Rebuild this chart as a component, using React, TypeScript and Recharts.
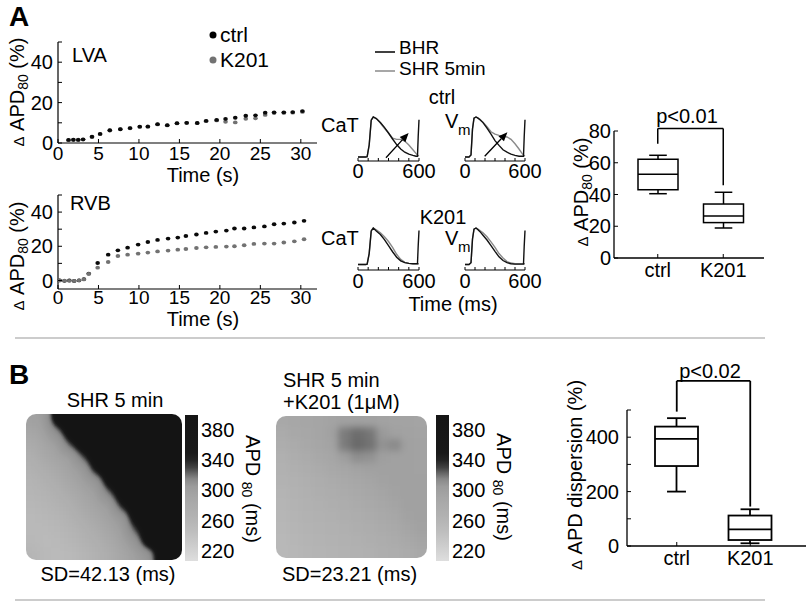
import React from "react";
import { ScatterChart, Scatter, LineChart, Line, BarChart, Bar, XAxis, YAxis, ReferenceLine } from "recharts";

const FONT = "'Liberation Sans', Arial, Helvetica, sans-serif";
const PAGE_W = 807;
const PAGE_H = 607;

// A: ΔAPD80 time courses (time in s, value in %)
const lvaTime = [1.3, 1.9, 2.5, 3.1, 4.2, 5.2, 6.4, 7.7, 8.9, 10.1, 11.1, 12.3, 13.5, 14.7, 15.9, 17.2, 18.3, 19.6, 20.7, 21.9, 23.2, 24.4, 25.6, 26.7, 27.9, 29.0, 30.2];
const lvaCtrl = [1.5, 1.6, 1.5, 1.8, 3.1, 4.5, 6.3, 6.8, 7.4, 8.1, 8.1, 9.3, 8.8, 9.8, 10.0, 9.9, 11.0, 11.4, 11.9, 12.5, 13.5, 13.7, 15.0, 15.2, 15.2, 15.3, 15.8];
const lvaK201 = [1.4, 1.5, 1.6, 1.7, 3.0, 4.4, 6.2, 6.9, 7.3, 8.0, 8.2, 9.2, 8.7, 9.7, 9.9, 9.8, 10.8, 11.2, 10.5, 10.2, 12.0, 12.2, 13.9, 14.8, 14.9, 15.0, 15.4];
const rvbTime = [0.2, 0.8, 1.4, 2.0, 2.6, 3.2, 3.8, 4.9, 6.2, 7.4, 8.6, 9.9, 11.1, 12.3, 13.6, 14.8, 15.8, 17.1, 18.3, 19.5, 20.8, 21.8, 23.0, 24.2, 25.5, 26.7, 27.9, 29.2, 30.4];
const rvbCtrl = [0, -0.2, 0, -0.3, 0, 0.8, 4.0, 10.2, 15.1, 17.6, 19.2, 21.0, 22.5, 23.7, 24.5, 25.1, 26.0, 26.9, 27.8, 28.6, 29.2, 30.4, 30.4, 31.0, 31.6, 32.9, 33.3, 33.9, 34.9];
const rvbK201 = [0.1, -0.1, -0.2, -0.2, 0.1, 0.6, 3.8, 7.5, 10.8, 14.3, 15.1, 15.7, 16.3, 17.0, 17.5, 18.0, 18.4, 19.0, 19.4, 19.6, 19.8, 20.0, 20.6, 21.4, 21.6, 21.6, 22.2, 22.9, 24.1];
const secTicks = [0, 5, 10, 15, 20, 25, 30];
const apdTicks = [0, 10, 20, 30, 40, 50];

// A: example traces, normalised amplitude vs time (ms)
const traceTime = [0, 40, 60, 75, 90, 110, 130, 150, 180, 220, 260, 300, 340, 380, 420, 460, 500, 540, 570, 585, 592, 600];
const ctrlCaTBhr = [0, 0, 0, 0, 0.01, 0.3, 0.92, 1, 0.96, 0.86, 0.74, 0.6, 0.45, 0.31, 0.2, 0.12, 0.07, 0.04, 0.02, 0.02, 0.5, 0.93];
const ctrlCaTShr = [0, 0, 0, 0, 0.01, 0.3, 0.92, 1, 0.96, 0.85, 0.72, 0.6, 0.47, 0.44, 0.44, 0.4, 0.3, 0.18, 0.09, 0.05, 0.04, 0.03];
const ctrlVmBhr = [0, 0, 0.05, 0.7, 0.97, 1, 0.97, 0.93, 0.86, 0.72, 0.57, 0.41, 0.29, 0.18, 0.12, 0.07, 0.04, 0.02, 0.02, 0.02, 0.5, 0.93];
const ctrlVmShr = [0, 0, 0.05, 0.7, 0.97, 1, 0.97, 0.94, 0.87, 0.76, 0.63, 0.57, 0.54, 0.52, 0.5, 0.44, 0.33, 0.2, 0.09, 0.05, 0.04, 0.03];
const k201CaTBhr = [0, 0, 0, 0, 0.01, 0.3, 0.92, 1, 0.92, 0.82, 0.68, 0.52, 0.35, 0.2, 0.1, 0.05, 0.03, 0.02, 0.02, 0.02, 0.5, 0.93];
const k201CaTShr = [0, 0, 0, 0, 0.01, 0.3, 0.92, 1, 0.95, 0.87, 0.76, 0.63, 0.47, 0.28, 0.14, 0.06, 0.03, 0.02, 0.02, 0.02, 0.02, 0.02];
const k201VmBhr = [0, 0, 0.05, 0.7, 0.97, 1, 0.95, 0.9, 0.8, 0.67, 0.52, 0.36, 0.21, 0.11, 0.05, 0.02, 0.01, 0.01, 0.01, 0.01, 0.5, 0.93];
const k201VmShr = [0, 0, 0.05, 0.7, 0.97, 1, 0.97, 0.93, 0.87, 0.76, 0.62, 0.47, 0.3, 0.18, 0.08, 0.04, 0.02, 0.02, 0.02, 0.02, 0.02, 0.02];
const msTicks = [0, 100, 200, 300, 400, 500, 600];
const caTArrow = [{ x: 275, y: -0.02 }, { x: 498, y: 0.6 }];
const vmArrow = [{ x: 197, y: 0.02 }, { x: 424, y: 0.62 }];

// box plots: min, q1, median, q3, max
const boxGroups = ["ctrl", "K201"];
const apdBox = [
  [40.5, 43, 52.7, 62.2, 64.7],
  [18.9, 22.3, 26.5, 34, 41.4],
];
const dispBox = [
  [200, 294, 394, 439, 470],
  [10, 22, 61, 112, 135],
];

// B: APD80 maps (ms), rows top to bottom
const mapShr = [
  [298, 305, 345, 385, 390, 390, 390, 390, 390, 390, 390, 390],
  [290, 298, 318, 370, 390, 390, 390, 390, 390, 390, 390, 390],
  [280, 292, 300, 325, 380, 390, 390, 390, 390, 390, 390, 390],
  [272, 285, 294, 302, 325, 385, 390, 390, 390, 390, 390, 390],
  [265, 275, 286, 296, 308, 335, 388, 390, 390, 390, 390, 390],
  [260, 268, 278, 290, 300, 312, 345, 390, 390, 390, 390, 390],
  [258, 262, 270, 282, 292, 302, 322, 380, 390, 390, 390, 390],
  [255, 258, 263, 272, 285, 295, 305, 330, 388, 390, 390, 390],
  [252, 255, 258, 265, 277, 288, 298, 310, 340, 390, 390, 390],
  [252, 252, 255, 260, 268, 280, 292, 302, 325, 385, 390, 390],
  [254, 250, 252, 256, 263, 272, 284, 296, 312, 350, 390, 390],
  [258, 252, 250, 252, 258, 266, 278, 290, 300, 312, 360, 390],
];
const mapK201 = [
  [285, 288, 290, 292, 295, 298, 298, 298, 296, 295, 295, 293],
  [280, 285, 288, 292, 298, 318, 321, 319, 306, 298, 296, 295],
  [275, 280, 285, 290, 295, 318, 322, 320, 310, 314, 298, 296],
  [270, 275, 280, 285, 290, 302, 312, 310, 300, 298, 297, 296],
  [268, 272, 276, 280, 285, 290, 295, 298, 298, 297, 297, 296],
  [265, 268, 272, 276, 280, 284, 288, 292, 296, 297, 298, 297],
  [262, 266, 270, 273, 276, 280, 283, 287, 292, 296, 298, 298],
  [260, 264, 268, 270, 273, 276, 280, 283, 288, 293, 298, 298],
  [258, 262, 266, 268, 270, 273, 276, 280, 284, 288, 296, 298],
  [256, 260, 264, 266, 268, 270, 273, 276, 280, 284, 292, 296],
  [255, 258, 262, 264, 266, 268, 270, 273, 276, 280, 286, 292],
  [255, 257, 260, 262, 264, 266, 268, 270, 273, 276, 280, 285],
];
const cbDomain = [206, 400];
const cbTicks = [220, 260, 300, 340, 380];

// gray colormap used by the maps and colour bars
const grayStops = [
  [206, 222], [225, 206], [245, 190], [265, 178], [290, 166], [305, 156],
  [315, 136], [322, 105], [330, 66], [340, 36], [350, 25], [400, 21],
];
function apdColor(v: number) {
  let g = grayStops[grayStops.length - 1][1];
  if (v <= grayStops[0][0]) g = grayStops[0][1];
  for (let i = 1; i < grayStops.length; i++) {
    const [v0, g0] = grayStops[i - 1];
    const [v1, g1] = grayStops[i];
    if (v >= v0 && v <= v1) {
      g = g0 + ((g1 - g0) * (v - v0)) / (v1 - v0);
      break;
    }
  }
  const c = Math.round(g);
  return `rgb(${c},${c},${c})`;
}

// smoothing for the maps: blur, then re-sharpen the dark/light edge
const sharpTable = "0.08 0.08 0.08 0.08 0.08 0.085 0.1 0.2 0.38 0.52 0.57 0.59 0.61 0.65 0.7 0.75 0.8 0.85 0.9 0.95 1";

// plot area in page pixels; axes are 1px wide so the margin is shifted by 1
const frame = (x0: number, y0: number, x1: number, y1: number) => ({
  top: y0,
  left: x0 - 1,
  right: PAGE_W - x1 - 1,
  bottom: PAGE_H - y1 - 1,
});

const Layer = ({ children }: { children: React.ReactNode }) => (
  <div style={{ position: "absolute", left: 0, top: 0 }}>{children}</div>
);

function leftTick(show?: number[], len = 4, gap = 3) {
  return (p: any) => {
    const v = p.payload.value;
    return (
      <g>
        {len > 0 && <line x1={p.x} x2={p.x + len} y1={p.y} y2={p.y} stroke="#000" />}
        {(!show || show.includes(v)) && (
          <text x={p.x - gap} y={p.y} dy="0.36em" textAnchor="end" fontSize={20} fontFamily={FONT} fill="#000">
            {v}
          </text>
        )}
      </g>
    );
  };
}

function bottomTick(dy: number, show?: (number | string)[], len = 4, size = 20) {
  return (p: any) => {
    const v = p.payload.value;
    return (
      <g>
        {len > 0 && <line x1={p.x} x2={p.x} y1={p.y} y2={p.y - len} stroke="#000" />}
        {(!show || show.includes(v)) && (
          <text x={p.x} y={p.y + dy} textAnchor="middle" fontSize={size} fontFamily={FONT} fill="#000">
            {v}
          </text>
        )}
      </g>
    );
  };
}

const rightTick = (p: any) => (
  <text x={p.x + 3} y={p.y} dy="0.36em" textAnchor="start" fontSize={20} fontFamily={FONT} fill="#000">
    {p.payload.value}
  </text>
);

const dot = (color: string) => (p: any) => <ellipse cx={p.cx} cy={p.cy} rx={2.3} ry={1.9} fill={color} />;

function TimeCourse(props: {
  box: [number, number, number, number];
  yDomain: [number, number];
  time: number[];
  ctrl: number[];
  k201: number[];
  k201OnTop?: boolean;
  labelDy: number;
}) {
  const { box, yDomain, time, ctrl, k201, k201OnTop, labelDy } = props;
  const ctrlData = time.map((t, i) => ({ t, v: ctrl[i] }));
  const k201Data = time.map((t, i) => ({ t, v: k201[i] }));
  const ctrlSeries = <Scatter key="c" data={ctrlData} shape={dot("#0a0a0a")} isAnimationActive={false} />;
  const k201Series = <Scatter key="k" data={k201Data} shape={dot("#727272")} isAnimationActive={false} />;
  return (
    <Layer>
      <ScatterChart width={PAGE_W} height={PAGE_H} margin={frame(...box)}>
        <XAxis type="number" dataKey="t" domain={[0, 32]} ticks={secTicks} interval={0} height={1} tickSize={0} tickMargin={0} tick={bottomTick(labelDy, undefined, 4, 19)} stroke="#000" strokeWidth={1.2} />
        <YAxis type="number" dataKey="v" domain={yDomain} ticks={apdTicks} interval={0} width={1} tickSize={0} tickMargin={0} tick={leftTick([0, 20, 40], 4, 5)} stroke="#000" strokeWidth={1.2} />
        {k201OnTop ? [ctrlSeries, k201Series] : [k201Series, ctrlSeries]}
      </ScatterChart>
    </Layer>
  );
}

const arrowShape = (p: any) => {
  const { x1, y1, x2, y2 } = p;
  const a = Math.atan2(y2 - y1, x2 - x1);
  const L = 9;
  const hw = 3.8;
  const bx = x2 - L * Math.cos(a);
  const by = y2 - L * Math.sin(a);
  const pts = `${x2},${y2} ${bx - hw * Math.sin(a)},${by + hw * Math.cos(a)} ${bx + hw * Math.sin(a)},${by - hw * Math.cos(a)}`;
  return (
    <g>
      <line x1={x1} y1={y1} x2={bx} y2={by} stroke="#000" strokeWidth={1.3} />
      <polygon points={pts} fill="#000" />
    </g>
  );
};

function Trace(props: {
  box: [number, number, number, number];
  yDomain: [number, number];
  bhr: number[];
  shr: number[];
  labelDy: number;
  arrow?: { x: number; y: number }[];
}) {
  const { box, yDomain, bhr, shr, labelDy, arrow } = props;
  const data = traceTime.map((t, i) => ({ t, bhr: bhr[i], shr: shr[i] }));
  return (
    <Layer>
      <LineChart width={PAGE_W} height={PAGE_H} margin={frame(...box)} data={data}>
        <XAxis type="number" dataKey="t" domain={[0, 600]} ticks={msTicks} interval={0} height={1} tickSize={0} tickMargin={0} tick={bottomTick(labelDy, [0, 600], 3)} stroke="#000" strokeWidth={1.2} />
        <YAxis type="number" domain={yDomain} hide />
        <Line dataKey="shr" stroke="#8a8a8a" strokeWidth={1.4} dot={false} isAnimationActive={false} />
        <Line dataKey="bhr" stroke="#111" strokeWidth={1.4} dot={false} isAnimationActive={false} />
        {arrow && <ReferenceLine segment={arrow} ifOverflow="visible" shape={arrowShape} />}
      </LineChart>
    </Layer>
  );
}

const boxShape = (lw: number) => (p: any) => {
  const { x, y, width, height, payload } = p;
  const { min, q1, med, q3, max } = payload;
  const top = Math.min(y, y + height);
  const bot = Math.max(y, y + height);
  const py = (v: number) => bot - ((bot - top) * (v - min)) / (max - min);
  const cx = x + width / 2;
  const cap = width * 0.22;
  return (
    <g stroke="#000" strokeWidth={lw} fill="none">
      <line x1={cx} x2={cx} y1={py(max)} y2={py(q3)} />
      <line x1={cx} x2={cx} y1={py(q1)} y2={py(min)} />
      <line x1={cx - cap} x2={cx + cap} y1={py(max)} y2={py(max)} />
      <line x1={cx - cap} x2={cx + cap} y1={py(min)} y2={py(min)} />
      <rect x={x} y={py(q3)} width={width} height={py(q1) - py(q3)} />
      <line x1={x} x2={x + width} y1={py(med)} y2={py(med)} />
    </g>
  );
};

function BoxPlot(props: {
  box: [number, number, number, number];
  stats: number[][];
  yDomain: [number, number];
  yTicks: number[];
  yShow: number[];
  barSize: number;
  padding: { left: number; right: number };
  lw: number;
  bracket: [number, number, number];
  labelGap: number;
}) {
  const { box, stats, yDomain, yTicks, yShow, barSize, padding, lw, bracket, labelGap } = props;
  const data = boxGroups.map((g, i) => ({ g, min: stats[i][0], q1: stats[i][1], med: stats[i][2], q3: stats[i][3], max: stats[i][4] }));
  const [c0, top, k0] = bracket;
  return (
    <Layer>
      <BarChart width={PAGE_W} height={PAGE_H} margin={frame(...box)} data={data} barCategoryGap={0}>
        <XAxis dataKey="g" type="category" padding={padding} interval={0} height={1} tickSize={0} tickMargin={0} tick={bottomTick(19)} stroke="#000" strokeWidth={1.3} />
        <YAxis type="number" domain={yDomain} ticks={yTicks} interval={0} width={1} tickSize={0} tickMargin={0} tick={leftTick(yShow, 4, labelGap)} stroke="#000" strokeWidth={1.3} />
        <Bar dataKey={(d: any) => [d.min, d.max]} barSize={barSize} shape={boxShape(lw)} isAnimationActive={false} />
        <ReferenceLine segment={[{ x: "ctrl", y: c0 }, { x: "ctrl", y: top }]} ifOverflow="visible" stroke="#000" strokeWidth={lw} />
        <ReferenceLine segment={[{ x: "ctrl", y: top }, { x: "K201", y: top }]} ifOverflow="visible" stroke="#000" strokeWidth={lw} />
        <ReferenceLine segment={[{ x: "K201", y: top }, { x: "K201", y: k0 }]} ifOverflow="visible" stroke="#000" strokeWidth={lw} />
      </BarChart>
    </Layer>
  );
}

function HeatMap({ grid, x, y, w, h, filter }: { grid: number[][]; x: number; y: number; w: number; h: number; filter: string }) {
  const P = 14;
  const n = grid.length;
  const m = grid[0].length;
  const cells = grid.flatMap((row, r) => row.map((v, c) => ({ c, r, v })));
  const cw = w / m;
  const ch = h / n;
  const shape = (p: any) => {
    const { c, r, v } = p.payload;
    let x0 = p.cx - cw / 2 - 0.6;
    let x1 = p.cx + cw / 2 + 0.6;
    let y0 = p.cy - ch / 2 - 0.6;
    let y1 = p.cy + ch / 2 + 0.6;
    if (c === 0) x0 -= P;
    if (c === m - 1) x1 += P;
    if (r === 0) y0 -= P;
    if (r === n - 1) y1 += P;
    return <rect x={x0} y={y0} width={x1 - x0} height={y1 - y0} fill={apdColor(v)} />;
  };
  return (
    <div style={{ position: "absolute", left: x, top: y, width: w, height: h, overflow: "hidden", borderRadius: 10 }}>
      <div style={{ position: "absolute", left: -P, top: -P, filter }}>
        <ScatterChart width={w + 2 * P} height={h + 2 * P} margin={{ top: P, right: P, bottom: P, left: P }}>
          <XAxis type="number" dataKey="c" domain={[-0.5, m - 0.5]} hide />
          <YAxis type="number" dataKey="r" domain={[-0.5, n - 0.5]} reversed hide />
          <Scatter data={cells} shape={shape} isAnimationActive={false} />
        </ScatterChart>
      </div>
    </div>
  );
}

function ColorBar({ id, x0, x1 }: { id: string; x0: number; x1: number }) {
  const span = cbDomain[1] - cbDomain[0];
  const stops = [...grayStops].reverse();
  return (
    <Layer>
      <BarChart width={PAGE_W} height={PAGE_H} margin={frame(x0, 415, x1, 560)} data={[{ k: "APD", lo: cbDomain[0], hi: cbDomain[1] }]} barCategoryGap={0}>
        <defs>
          <linearGradient id={id} x1="0" y1="0" x2="0" y2="1">
            {stops.map(([v]) => (
              <stop key={v} offset={(cbDomain[1] - v) / span} stopColor={apdColor(v)} />
            ))}
          </linearGradient>
        </defs>
        <XAxis dataKey="k" hide />
        <YAxis orientation="right" type="number" domain={cbDomain} ticks={cbTicks} interval={0} width={1} axisLine={false} tickSize={0} tickMargin={0} tick={rightTick} />
        <Bar dataKey={(d: any) => [d.lo, d.hi]} fill={`url(#${id})`} isAnimationActive={false} />
      </BarChart>
    </Layer>
  );
}

function Overlay() {
  const t = { fontFamily: FONT, fontSize: 20, fill: "#000" };
  const apdLabel = (x: number, y: number) => (
    <text transform={`translate(${x},${y}) rotate(-90)`} textAnchor="middle" {...t}>
      <tspan fontSize={15}>Δ</tspan>
      <tspan> APD</tspan>
      <tspan fontSize={14} dy={4}>80</tspan>
      <tspan dy={-4}> (%)</tspan>
    </text>
  );
  const mapLabel = (x: number, y: number) => (
    <text transform={`translate(${x},${y}) rotate(90)`} textAnchor="middle" {...t}>
      <tspan>APD </tspan>
      <tspan fontSize={14} dy={4}>80</tspan>
      <tspan dy={-4}> (ms)</tspan>
    </text>
  );
  return (
    <svg width={PAGE_W} height={PAGE_H} style={{ position: "absolute", left: 0, top: 0 }}>
      <text x={9} y={26} {...t} fontSize={28} fontWeight="bold">A</text>
      <text x={9} y={384} {...t} fontSize={28} fontWeight="bold">B</text>

      <circle cx={213} cy={35} r={3.5} fill="#000" />
      <text x={220} y={42} {...t} fontSize={21}>ctrl</text>
      <circle cx={213} cy={60} r={3.5} fill="#727272" />
      <text x={220} y={67} {...t} fontSize={21}>K201</text>
      <text x={72} y={62} {...t}>LVA</text>
      <text x={70} y={210} {...t}>RVB</text>
      {apdLabel(24, 92)}
      {apdLabel(24, 256)}
      <text x={203} y={182} textAnchor="middle" {...t}>Time (s)</text>
      <text x={203} y={326} textAnchor="middle" {...t}>Time (s)</text>

      <line x1={375} x2={395} y1={52} y2={52} stroke="#000" strokeWidth={1.5} />
      <text x={399} y={54} {...t} fontSize={19}>BHR</text>
      <line x1={375} x2={395} y1={71} y2={71} stroke="#8a8a8a" strokeWidth={1.5} />
      <text x={399} y={75} {...t} fontSize={19}>SHR 5min</text>
      <text x={442} y={104} textAnchor="middle" {...t}>ctrl</text>
      <text x={321} y={132} {...t}>CaT</text>
      <text x={445} y={128} {...t}>V</text>
      <text x={458} y={135} {...t} fontSize={15}>m</text>
      <text x={443} y={224} textAnchor="middle" {...t}>K201</text>
      <text x={321} y={245} {...t}>CaT</text>
      <text x={445} y={245} {...t}>V</text>
      <text x={458} y={252} {...t} fontSize={15}>m</text>
      <text x={453} y={311} textAnchor="middle" {...t}>Time (ms)</text>

      {apdLabel(588, 192)}
      <text x={687} y={123} textAnchor="middle" {...t}>p&lt;0.01</text>

      <line x1={15} x2={765} y1={338} y2={338} stroke="#9a9a9a" strokeWidth={1.2} />

      <text x={115} y={407} textAnchor="middle" {...t}>SHR 5 min</text>
      <text x={283} y={387} {...t}>SHR 5 min</text>
      <text x={283} y={409} {...t}>+K201 (1μM)</text>
      <text x={108} y={581} textAnchor="middle" {...t}>SD=42.13 (ms)</text>
      <text x={282} y={581} {...t}>SD=23.21 (ms)</text>
      {mapLabel(246, 489)}
      {mapLabel(497, 487)}

      <text transform="translate(582,475) rotate(-90)" textAnchor="middle" {...t}>
        <tspan fontSize={15}>Δ</tspan>
        <tspan> APD dispersion (%)</tspan>
      </text>
      <text x={710} y={378} textAnchor="middle" {...t}>p&lt;0.02</text>

      <line x1={15} x2={765} y1={600} y2={600} stroke="#9a9a9a" strokeWidth={1.2} />
    </svg>
  );
}

export default function App() {
  return (
    <div style={{ position: "absolute", left: 0, top: 0, width: PAGE_W, height: PAGE_H, background: "#fff", overflow: "hidden", fontFamily: FONT }}>
      <svg width={0} height={0} style={{ position: "absolute" }}>
        <defs>
          <filter id="mapSharp" x="0" y="0" width="100%" height="100%" colorInterpolationFilters="sRGB">
            <feGaussianBlur stdDeviation={5.5} edgeMode="duplicate" />
            <feComponentTransfer>
              <feFuncR type="table" tableValues={sharpTable} />
              <feFuncG type="table" tableValues={sharpTable} />
              <feFuncB type="table" tableValues={sharpTable} />
            </feComponentTransfer>
          </filter>
        </defs>
      </svg>

      <TimeCourse box={[58, 42, 316, 143]} yDomain={[0, 50]} time={lvaTime} ctrl={lvaCtrl} k201={lvaK201} labelDy={17} />
      <TimeCourse box={[58, 195, 316, 289]} yDomain={[-5, 50]} time={rvbTime} ctrl={rvbCtrl} k201={rvbK201} k201OnTop labelDy={15} />

      <Trace box={[359, 117, 418, 161]} yDomain={[-0.1, 1]} bhr={ctrlCaTBhr} shr={ctrlCaTShr} labelDy={17} arrow={caTArrow} />
      <Trace box={[466, 117, 524, 161]} yDomain={[-0.1, 1]} bhr={ctrlVmBhr} shr={ctrlVmShr} labelDy={17} arrow={vmArrow} />
      <Trace box={[359, 228, 418, 270]} yDomain={[-0.15, 1]} bhr={k201CaTBhr} shr={k201CaTShr} labelDy={18} />
      <Trace box={[466, 228, 524, 270]} yDomain={[-0.15, 1]} bhr={k201VmBhr} shr={k201VmShr} labelDy={18} />

      <BoxPlot box={[614, 131, 763, 258]} stats={apdBox} yDomain={[0, 80]} yTicks={[0, 20, 40, 60, 80]} yShow={[0, 20, 40, 60, 80]} barSize={40} padding={{ left: 11, right: 8 }} lw={1.5} bracket={[72, 81.5, 45.8]} labelGap={3} />
      <BoxPlot box={[627, 410, 805, 546]} stats={dispBox} yDomain={[0, 500]} yTicks={[0, 100, 200, 300, 400, 500]} yShow={[0, 200, 400]} barSize={43} padding={{ left: 13, right: 19 }} lw={1.8} bracket={[494, 607, 145]} labelGap={8} />

      <HeatMap grid={mapShr} x={26} y={414} w={156} h={146} filter="url(#mapSharp)" />
      <HeatMap grid={mapK201} x={276} y={416} w={151} h={142} filter="blur(3.5px)" />
      <ColorBar id="cbLeft" x0={186} x1={198} />
      <ColorBar id="cbRight" x0={437} x1={449} />

      <Overlay />
    </div>
  );
}
